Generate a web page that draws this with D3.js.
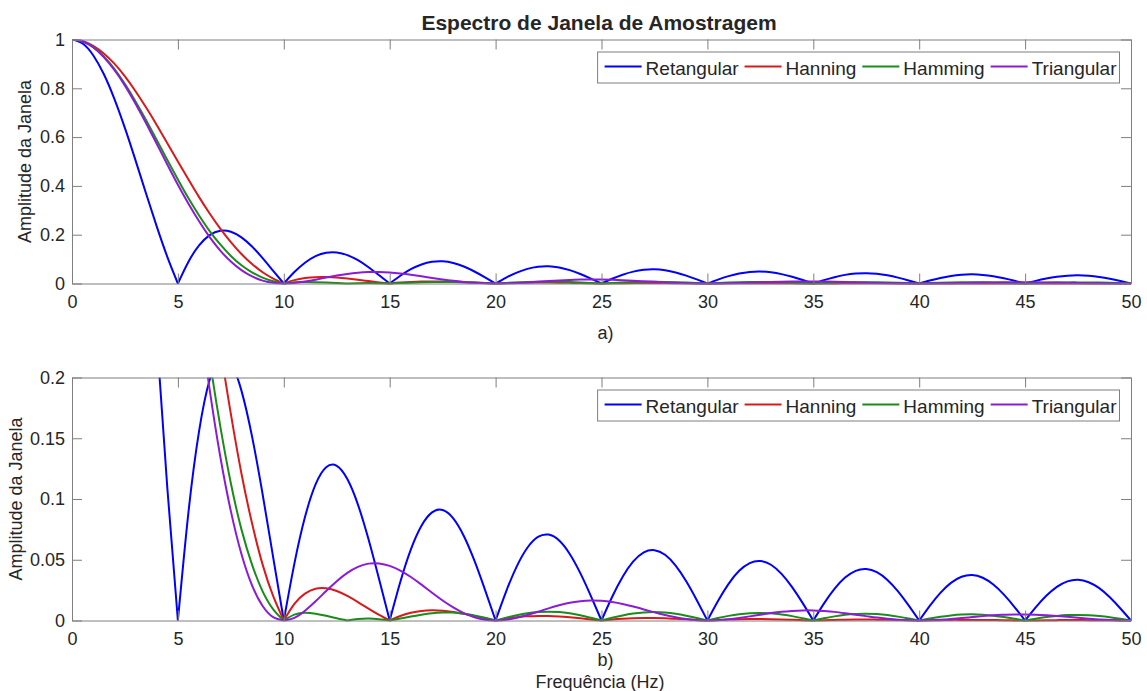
<!DOCTYPE html>
<html>
<head>
<meta charset="utf-8">
<script src="https://cdn.jsdelivr.net/npm/d3@7.9.0/dist/d3.min.js"></script>
<style>
  body { margin: 0; background: #fff; }
  svg text { font-family: "Liberation Sans", Arial, Helvetica, sans-serif; fill: #262626; }
</style>
</head>
<body>
<svg id="chart" width="1147" height="691"></svg>
<script>
// frequency grid (Hz)
const freqs = [
  0, 0.5, 1, 1.5, 2, 2.5, 3, 3.5, 4, 4.5,
  5, 5.5, 6, 6.5, 7, 7.5, 8, 8.5, 9, 9.5,
  10, 10.5, 11, 11.5, 12, 12.5, 13, 13.5, 14, 14.5,
  15, 15.5, 16, 16.5, 17, 17.5, 18, 18.5, 19, 19.5,
  20, 20.5, 21, 21.5, 22, 22.5, 23, 23.5, 24, 24.5,
  25, 25.5, 26, 26.5, 27, 27.5, 28, 28.5, 29, 29.5,
  30, 30.5, 31, 31.5, 32, 32.5, 33, 33.5, 34, 34.5,
  35, 35.5, 36, 36.5, 37, 37.5, 38, 38.5, 39, 39.5,
  40, 40.5, 41, 41.5, 42, 42.5, 43, 43.5, 44, 44.5,
  45, 45.5, 46, 46.5, 47, 47.5, 48, 48.5, 49, 49.5,
  50
];

const retangular = [
  1, 0.9836, 0.9355, 0.8584, 0.7568, 0.6366, 0.5046, 0.3679, 0.2339, 0.1093,
  0, 0.0894, 0.1559, 0.1981, 0.2162, 0.2122, 0.1892, 0.1515, 0.1039, 0.0518,
  0, 0.0468, 0.0851, 0.1120, 0.1261, 0.1273, 0.1164, 0.0954, 0.0668, 0.0339,
  0, 0.0317, 0.0585, 0.0780, 0.0890, 0.0909, 0.0841, 0.0696, 0.0492, 0.0252,
  0, 0.0240, 0.0446, 0.0599, 0.0688, 0.0707, 0.0658, 0.0548, 0.0390, 0.0201,
  0, 0.0193, 0.0360, 0.0486, 0.0561, 0.0579, 0.0541, 0.0452, 0.0323, 0.0167,
  0, 0.0161, 0.0302, 0.0409, 0.0473, 0.0490, 0.0459, 0.0384, 0.0275, 0.0143,
  0, 0.0139, 0.0260, 0.0353, 0.0409, 0.0424, 0.0398, 0.0334, 0.0240, 0.0125,
  0, 0.0121, 0.0228, 0.0310, 0.0360, 0.0375, 0.0352, 0.0296, 0.0213, 0.0111,
  0, 0.0108, 0.0203, 0.0277, 0.0322, 0.0335, 0.0315, 0.0266, 0.0191, 0.0099,
  0
];

const hanning = [
  1, 0.994, 0.974, 0.943, 0.901, 0.849, 0.788, 0.721, 0.650, 0.575,
  0.500, 0.426, 0.354, 0.287, 0.225, 0.170, 0.121, 0.080, 0.046, 0.020,
  0, 0.0137, 0.0221, 0.0261, 0.0265, 0.0243, 0.0202, 0.0152, 0.0098, 0.0046,
  0, 0.0037, 0.0063, 0.0079, 0.0084, 0.0081, 0.0070, 0.0055, 0.0037, 0.0018,
  0, 0.0015, 0.0027, 0.0034, 0.0037, 0.0037, 0.0033, 0.0026, 0.0018, 0.0009,
  0, 0.0008, 0.0014, 0.0018, 0.0020, 0.0020, 0.0018, 0.0014, 0.0010, 0.0005,
  0, 0.0004, 0.0008, 0.0011, 0.0012, 0.0012, 0.0011, 0.0009, 0.0006, 0.0003,
  0, 0.0003, 0.0005, 0.0007, 0.0008, 0.0008, 0.0007, 0.0006, 0.0004, 0.0002,
  0, 0.0002, 0.0003, 0.0005, 0.0005, 0.0005, 0.0005, 0.0004, 0.0003, 0.0001,
  0, 0.0001, 0.0002, 0.0003, 0.0004, 0.0004, 0.0003, 0.0003, 0.0002, 0.0001,
  0
];

const hamming = [
  1, 0.992, 0.969, 0.931, 0.880, 0.817, 0.746, 0.669, 0.588, 0.506,
  0.426, 0.349, 0.279, 0.215, 0.160, 0.113, 0.075, 0.046, 0.024, 0.0092,
  0, 0.0048, 0.0063, 0.0056, 0.0039, 0.0018, 0, 0.0012, 0.0016, 0.0011,
  0, 0.0016, 0.0033, 0.0048, 0.0060, 0.0066, 0.0065, 0.0056, 0.0042, 0.0022,
  0, 0.0023, 0.0043, 0.0060, 0.0070, 0.0073, 0.0070, 0.0059, 0.0043, 0.0022,
  0, 0.0022, 0.0042, 0.0057, 0.0066, 0.0069, 0.0065, 0.0055, 0.0039, 0.0020,
  0, 0.0020, 0.0038, 0.0052, 0.0060, 0.0062, 0.0059, 0.0049, 0.0036, 0.0018,
  0, 0.0018, 0.0034, 0.0047, 0.0054, 0.0056, 0.0053, 0.0045, 0.0032, 0.0017,
  0, 0.0016, 0.0031, 0.0042, 0.0049, 0.0051, 0.0048, 0.0040, 0.0029, 0.0015,
  0, 0.0015, 0.0028, 0.0038, 0.0045, 0.0046, 0.0044, 0.0037, 0.0027, 0.0014,
  0
];

const triangular = [
  1, 0.992, 0.968, 0.928, 0.875, 0.811, 0.737, 0.657, 0.573, 0.488,
  0.405, 0.327, 0.255, 0.190, 0.135, 0.090, 0.0547, 0.0289, 0.0119, 0.0027,
  0, 0.0022, 0.0080, 0.0158, 0.0243, 0.0324, 0.0392, 0.0441, 0.0468, 0.0470,
  0.0450, 0.0411, 0.0358, 0.0295, 0.0229, 0.0165, 0.0108, 0.0061, 0.0027, 0.0007,
  0, 0.0006, 0.0022, 0.0045, 0.0072, 0.0100, 0.0125, 0.0146, 0.0159, 0.0165,
  0.0162, 0.0152, 0.0136, 0.0115, 0.0091, 0.0067, 0.0045, 0.0026, 0.0012, 0.0003,
  0, 0.0003, 0.0010, 0.0021, 0.0034, 0.0048, 0.0061, 0.0072, 0.0079, 0.0083,
  0.0083, 0.0078, 0.0071, 0.0060, 0.0048, 0.0036, 0.0024, 0.0014, 0.0006, 0.0002,
  0, 0.0002, 0.0006, 0.0012, 0.0020, 0.0028, 0.0036, 0.0043, 0.0047, 0.0050,
  0.0050, 0.0048, 0.0043, 0.0037, 0.0030, 0.0022, 0.0015, 0.0009, 0.0004, 0.0001,
  0
];

const seriesNames = ['Retangular', 'Hanning', 'Hamming', 'Triangular'];
const seriesValues = [retangular, hanning, hamming, triangular];
const seriesColors = ['#0000ff', '#d91a1a', '#1a8c1a', '#8c1ad9'];

const xTicks = [0, 5, 10, 15, 20, 25, 30, 35, 40, 45, 50];
const yTicksA = [0, 0.2, 0.4, 0.6, 0.8, 1];
const yTickLabelsA = ['0', '0.2', '0.4', '0.6', '0.8', '1'];
const yTicksB = [0, 0.05, 0.1, 0.15, 0.2];
const yTickLabelsB = ['0', '0.05', '0.1', '0.15', '0.2'];

const svg = d3.select('#chart');
const left = 72, right = 1131;
const frameColor = '#7f7f7f';
const fontSize = 18;

const x = d3.scaleLinear().domain([0, 50]).range([left, right]);

// split a series at its nulls so the corners stay sharp there
function lobes(vals) {
  const segs = [];
  let cur = [];
  vals.forEach((v, i) => {
    cur.push([freqs[i], v]);
    if (v === 0 && cur.length > 1) {
      segs.push(cur);
      cur = [[freqs[i], v]];
    }
  });
  if (cur.length > 1) segs.push(cur);
  return segs;
}

function styleAxis(g) {
  g.attr('font-family', null).attr('font-size', fontSize);
  g.selectAll('path, line').attr('stroke', frameColor).attr('stroke-width', 1);
  g.selectAll('text').attr('fill', '#262626');
}

function drawPanel(cfg) {
  const y = d3.scaleLinear().domain([0, cfg.yMax]).range([cfg.bottom, cfg.top]);

  svg.append('clipPath').attr('id', cfg.id)
    .append('rect')
    .attr('x', left).attr('y', cfg.top)
    .attr('width', right - left).attr('height', cfg.bottom - cfg.top + 2);

  const line = d3.line()
    .x(d => x(d[0]))
    .y(d => y(d[1]))
    .curve(d3.curveNatural);

  const plot = svg.append('g').attr('clip-path', `url(#${cfg.id})`);
  seriesValues.forEach((vals, i) => {
    plot.append('path')
      .attr('d', lobes(vals).map(line).join(''))
      .attr('fill', 'none')
      .attr('stroke', seriesColors[i])
      .attr('stroke-width', 2)
      .attr('stroke-linejoin', 'round');
  });

  // axes with inward ticks on all four sides
  svg.append('g')
    .attr('transform', `translate(0,${cfg.bottom})`)
    .call(d3.axisBottom(x).tickValues(xTicks).tickSize(-10).tickSizeOuter(0).tickPadding(12).tickFormat(d3.format('d')))
    .call(styleAxis);
  svg.append('g')
    .attr('transform', `translate(0,${cfg.top})`)
    .call(d3.axisTop(x).tickValues(xTicks).tickSize(-10).tickSizeOuter(0).tickFormat(''))
    .call(styleAxis);
  svg.append('g')
    .attr('transform', `translate(${left},0)`)
    .call(d3.axisLeft(y).tickValues(cfg.yTicks).tickSize(-10).tickSizeOuter(0).tickPadding(7)
      .tickFormat((d, i) => cfg.yLabels[i]))
    .call(styleAxis);
  svg.append('g')
    .attr('transform', `translate(${right},0)`)
    .call(d3.axisRight(y).tickValues(cfg.yTicks).tickSize(-10).tickSizeOuter(0).tickFormat(''))
    .call(styleAxis);

  // y label
  svg.append('text')
    .attr('transform', `translate(${cfg.labelX},${(cfg.top + cfg.bottom) / 2}) rotate(-90)`)
    .attr('text-anchor', 'middle')
    .attr('font-size', fontSize)
    .text('Amplitude da Janela');

  // sub caption a) / b)
  svg.append('text')
    .attr('x', (left + right) / 2 + 4).attr('y', cfg.captionY)
    .attr('text-anchor', 'middle')
    .attr('font-size', fontSize)
    .text(cfg.caption);

  // legend
  const legTop = cfg.top + 12, legH = 31, legRight = 1119.5;
  const leg = svg.append('g');
  const box = leg.append('rect')
    .attr('y', legTop + 0.5).attr('height', legH)
    .attr('fill', '#fff').attr('stroke', frameColor).attr('stroke-width', 1);
  let cx = 0;
  seriesNames.forEach((name, i) => {
    const it = leg.append('g');
    it.append('line')
      .attr('x1', cx).attr('x2', cx + 37)
      .attr('y1', legTop + 15).attr('y2', legTop + 15)
      .attr('stroke', seriesColors[i]).attr('stroke-width', 2);
    const t = it.append('text')
      .attr('x', cx + 41).attr('y', legTop + 23)
      .attr('font-size', 19)
      .text(name);
    cx += 41 + t.node().getComputedTextLength() + 6;
  });
  const total = cx - 6;
  const startX = legRight - 3 - total;
  leg.selectAll('g').attr('transform', `translate(${startX},0)`);
  box.attr('x', startX - 7).attr('width', total + 10);
}

// title
svg.append('text')
  .attr('x', 599).attr('y', 30)
  .attr('text-anchor', 'middle')
  .attr('font-size', 21)
  .attr('font-weight', 'bold')
  .attr('fill', '#000')
  .text('Espectro de Janela de Amostragem');

drawPanel({ id: 'clipA', top: 39.5, bottom: 283.5, yMax: 1, yTicks: yTicksA, yLabels: yTickLabelsA,
  caption: 'a)', captionY: 339, labelX: 31 });
drawPanel({ id: 'clipB', top: 377.5, bottom: 620.5, yMax: 0.2, yTicks: yTicksB, yLabels: yTickLabelsB,
  caption: 'b)', captionY: 666, labelX: 22 });

svg.append('text')
  .attr('x', 600).attr('y', 688)
  .attr('text-anchor', 'middle')
  .attr('font-size', fontSize)
  .text('Frequência (Hz)');
</script>
</body>
</html>
